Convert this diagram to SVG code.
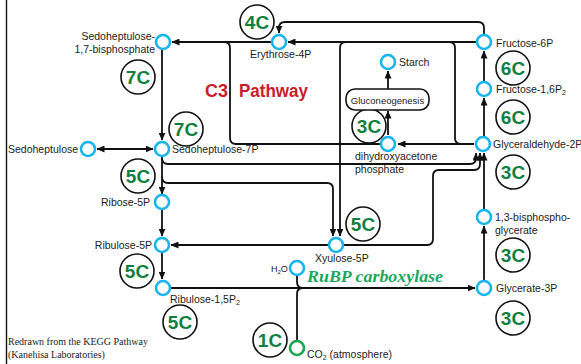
<svg xmlns="http://www.w3.org/2000/svg" width="581" height="364" viewBox="0 0 581 364">
<style>
.ln{fill:none;stroke:#111;stroke-width:1.8}
.nd{fill:#fff;stroke:#1ab4ec;stroke-width:2.6}
.cc{fill:#fff;stroke:#111;stroke-width:1.6}
.ct{font-family:"Liberation Sans",Arial,sans-serif;font-weight:bold;font-size:19px;fill:#127f3f;text-anchor:middle}
.lb{font-family:"Liberation Sans",Arial,sans-serif;font-size:10.5px;fill:#222}
.e{text-anchor:end}
.sub{font-size:7px}
.red{font-family:"Liberation Sans",Arial,sans-serif;font-weight:bold;font-size:18px;fill:#c8202a}
</style>
<defs>
<marker id="ar" markerUnits="userSpaceOnUse" markerWidth="8" markerHeight="7" refX="7.5" refY="3.5" orient="auto-start-reverse"><path d="M0,0 L8,3.5 L0,7 z" fill="#111"/></marker>
</defs>
<rect width="581" height="364" fill="#fff"/>
<line x1="6.5" y1="0" x2="6.5" y2="364" stroke="#111" stroke-width="1.4"/>
<g id="connectors">
<path class="ln" d="M476,42 H288" marker-end="url(#ar)"/>
<path class="ln" d="M271,42 H172" marker-end="url(#ar)"/>
<path class="ln" d="M484,34 V28 Q484,22 478,22 H285 Q279,22 279,28 V33" marker-end="url(#ar)"/>
<path class="ln" d="M162,50 V140" marker-end="url(#ar)"/>
<path class="ln" d="M224,42 Q230,42 230,48 V138 Q230,144 236,144 H381"/>
<path class="ln" d="M346,42 Q340,42 340,48 V236" marker-end="url(#ar)"/>
<path class="ln" d="M449,42 Q455,42 455,48 V138 Q455,144 461,144"/>
<path class="ln" d="M474,144 H398" marker-end="url(#ar)"/>
<path class="ln" d="M388,135 V111" marker-end="url(#ar)"/>
<path class="ln" d="M388,89 V71" marker-end="url(#ar)"/>
<path class="ln" d="M162,157 V194" marker-end="url(#ar)"/>
<path class="ln" d="M162,158 Q162,164 168,164 H470 Q476,164 476,158 V153" marker-end="url(#ar)"/>
<path class="ln" d="M162,177 Q162,183 168,183 H327 Q333,183 333,189 V236" marker-end="url(#ar)"/>
<path class="ln" d="M344,245 H427 Q433,245 433,239 V176 Q433,170 439,170 H474 Q480,170 480,164 V153" marker-end="url(#ar)"/>
<path class="ln" d="M162,210 V236" marker-end="url(#ar)"/>
<path class="ln" d="M328,245 H171" marker-end="url(#ar)"/>
<path class="ln" d="M162,253 V279" marker-end="url(#ar)"/>
<path class="ln" d="M171,288 H475" marker-end="url(#ar)"/>
<path class="ln" d="M297,276 V282 Q297,288 303,288"/>
<path class="ln" d="M297,340 V294 Q297,288 303,288"/>
<path class="ln" d="M484,280 V226" marker-end="url(#ar)"/>
<path class="ln" d="M484,209 V153" marker-end="url(#ar)"/>
<path class="ln" d="M484,136 V98" marker-end="url(#ar)"/>
<path class="ln" d="M484,81 V51" marker-end="url(#ar)"/>
<path class="ln" d="M97,149 H153" marker-start="url(#ar)" marker-end="url(#ar)"/>
</g>
<g id="carbons">
<circle class="cc" cx="257" cy="22" r="17"/><text class="ct" x="257" y="29">4C</text>
<circle class="cc" cx="138" cy="77" r="17"/><text class="ct" x="138" y="84">7C</text>
<circle class="cc" cx="186" cy="129" r="17"/><text class="ct" x="186" y="136">7C</text>
<circle class="cc" cx="138" cy="176" r="17"/><text class="ct" x="138" y="183">5C</text>
<circle class="cc" cx="137" cy="271" r="17"/><text class="ct" x="137" y="278">5C</text>
<circle class="cc" cx="180" cy="322" r="17"/><text class="ct" x="180" y="329">5C</text>
<circle class="cc" cx="270" cy="340" r="17"/><text class="ct" x="270" y="347">1C</text>
<circle class="cc" cx="363" cy="224" r="17"/><text class="ct" x="363" y="231">5C</text>
<circle class="cc" cx="369" cy="126" r="17"/><text class="ct" x="369" y="133">3C</text>
<circle class="cc" cx="513" cy="68" r="17"/><text class="ct" x="513" y="75">6C</text>
<circle class="cc" cx="513" cy="117" r="17"/><text class="ct" x="513" y="124">6C</text>
<circle class="cc" cx="513" cy="172" r="17"/><text class="ct" x="513" y="179">3C</text>
<circle class="cc" cx="513" cy="255" r="17"/><text class="ct" x="513" y="262">3C</text>
<circle class="cc" cx="513" cy="318" r="17"/><text class="ct" x="513" y="325">3C</text>
</g>
<g id="gluconeogenesis">
<rect x="346" y="89" width="83" height="21" rx="9" fill="#fff" stroke="#111" stroke-width="1.6"/>
<text class="lb" x="387.5" y="103.5" text-anchor="middle" style="font-size:9.5px">Gluconeogenesis</text>
</g>
<g id="sedoheptulose-17bp"><circle class="nd" cx="163" cy="42" r="7"/><text class="lb e" x="155" y="40">Sedoheptulose-</text><text class="lb e" x="155" y="53">1,7-bisphosphate</text></g>
<g id="erythrose-4p"><circle class="nd" cx="279" cy="42" r="7"/><text class="lb" x="250" y="58">Erythrose-4P</text></g>
<g id="fructose-6p"><circle class="nd" cx="484" cy="42" r="7"/><text class="lb" x="496" y="47">Fructose-6P</text></g>
<g id="starch"><circle class="nd" cx="388" cy="62" r="7"/><text class="lb" x="399" y="66">Starch</text></g>
<g id="fructose-16p2"><circle class="nd" cx="484" cy="89" r="7"/><text class="lb" x="496" y="93">Fructose-1,6P<tspan class="sub" dy="2">2</tspan></text></g>
<g id="sedoheptulose"><circle class="nd" cx="88" cy="149" r="7"/><text class="lb" x="8" y="153">Sedoheptulose</text></g>
<g id="sedoheptulose-7p"><circle class="nd" cx="162" cy="149" r="7"/><text class="lb" x="172" y="153">Sedoheptulose-7P</text></g>
<g id="dhap"><circle class="nd" cx="388" cy="144" r="7"/><text class="lb" x="355" y="160">dihydroxyacetone</text><text class="lb" x="355" y="173">phosphate</text></g>
<g id="glyceraldehyde-2p"><circle class="nd" cx="483" cy="144" r="7"/><text class="lb" x="493" y="148">Glyceraldehyde-2P</text></g>
<g id="ribose-5p"><circle class="nd" cx="162" cy="202" r="7"/><text class="lb e" x="150" y="206">Ribose-5P</text></g>
<g id="bpg"><circle class="nd" cx="484" cy="217" r="7"/><text class="lb" x="495" y="221">1,3-bisphospho-</text><text class="lb" x="495" y="234">glycerate</text></g>
<g id="ribulose-5p"><circle class="nd" cx="162" cy="245" r="7"/><text class="lb e" x="152" y="249">Ribulose-5P</text></g>
<g id="xyulose-5p"><circle class="nd" cx="336" cy="245" r="7"/><text class="lb" x="315" y="262">Xyulose-5P</text></g>
<g id="h2o"><circle class="nd" cx="297" cy="268" r="7"/><text class="lb" x="271" y="272" style="font-size:9px">H<tspan class="sub" dy="2" style="font-size:6px">2</tspan><tspan dy="-2">O</tspan></text></g>
<g id="ribulose-15p2"><circle class="nd" cx="163" cy="288" r="7"/><text class="lb" x="170" y="303">Ribulose-1,5P<tspan class="sub" dy="2">2</tspan></text></g>
<g id="glycerate-3p"><circle class="nd" cx="484" cy="288" r="7"/><text class="lb" x="496" y="292">Glycerate-3P</text></g>
<g id="co2"><circle cx="297" cy="348" r="7" fill="#fff" stroke="#1aa550" stroke-width="2.6"/><text class="lb" x="307" y="358">CO<tspan class="sub" dy="2">2</tspan><tspan dy="-2"> (atmosphere)</tspan></text></g>
<text class="red" x="205" y="97">C3</text>
<text class="red" x="239" y="97" textLength="69" lengthAdjust="spacingAndGlyphs">Pathway</text>
<text x="307" y="282" textLength="136" lengthAdjust="spacingAndGlyphs" style="font-family:'Liberation Serif','Times New Roman',serif;font-weight:bold;font-style:italic;font-size:17.5px;fill:#1aa860">RuBP carboxylase</text>
<text x="8" y="345" style="font-family:'Liberation Serif','Times New Roman',serif;font-size:10px;fill:#222">Redrawn from the KEGG Pathway</text>
<text x="8" y="358" style="font-family:'Liberation Serif','Times New Roman',serif;font-size:10px;fill:#222">(Kanehisa Laboratories)</text>
</svg>
